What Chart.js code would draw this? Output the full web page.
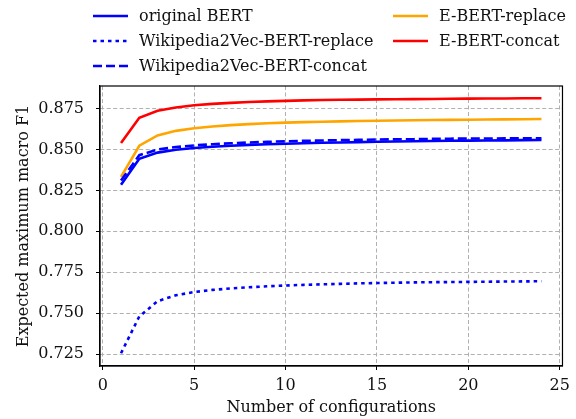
<!DOCTYPE html>
<html>
<head>
<meta charset="utf-8">
<script src="https://cdn.jsdelivr.net/npm/chart.js@4.4.0/dist/chart.umd.min.js"></script>
<style>
  html, body { margin: 0; padding: 0; background: #fff; }
  canvas { display: block; }
</style>
</head>
<body>
<canvas id="myChart" width="576" height="419"></canvas>
<script>
// data
const configs = [1,2,3,4,5,6,7,8,9,10,11,12,13,14,15,16,17,18,19,20,21,22,23,24]
const originalBert = [0.8285,0.8443,0.8481,0.8498,0.8509,0.8517,0.8523,0.8528,0.8532,0.8535,0.8538,0.8541,0.8543,0.8545,0.8547,0.8549,0.8550,0.8552,0.8553,0.8554,0.8555,0.8556,0.8557,0.8558]
const wikiReplace = [0.7255,0.7480,0.7573,0.7609,0.7629,0.7642,0.7651,0.7658,0.7664,0.7669,0.7673,0.7676,0.7679,0.7682,0.7684,0.7686,0.7688,0.7689,0.7690,0.7691,0.7692,0.7693,0.7694,0.7695]
const wikiConcat = [0.8310,0.8465,0.8500,0.8515,0.8525,0.8532,0.8538,0.8543,0.8547,0.8550,0.8553,0.8555,0.8557,0.8559,0.8561,0.8562,0.8563,0.8565,0.8566,0.8567,0.8567,0.8568,0.8569,0.8569]
const ebertReplace = [0.8333,0.8523,0.8586,0.8614,0.8630,0.8641,0.8649,0.8655,0.8660,0.8664,0.8667,0.8670,0.8672,0.8674,0.8676,0.8677,0.8679,0.8680,0.8681,0.8682,0.8683,0.8684,0.8685,0.8686]
const ebertConcat = [0.8540,0.8694,0.8737,0.8757,0.8770,0.8779,0.8785,0.8790,0.8794,0.8797,0.8800,0.8802,0.8804,0.8805,0.8806,0.8807,0.8808,0.8809,0.8810,0.8811,0.8812,0.8812,0.8813,0.8813]

const xTicks = [0, 5, 10, 15, 20, 25]
const yTicks = [0.725, 0.750, 0.775, 0.800, 0.825, 0.850, 0.875]

const FONT = "'DejaVu Serif', serif"
const FSIZE = 16

function pts(ys) {
    return ys.map((y, i) => ({x: configs[i], y: y}))
}

function mkSet(label, ys, color, dash) {
    return {
        label: label,
        data: pts(ys),
        borderColor: color,
        backgroundColor: color,
        borderWidth: 2.6,
        borderDash: dash,
        pointRadius: 0,
        fill: false,
        tension: 0
    }
}

const data = {
    datasets: [
        mkSet('original BERT', originalBert, '#0000ff', []),
        mkSet('Wikipedia2Vec-BERT-replace', wikiReplace, '#0000ff', [3.5, 4]),
        mkSet('Wikipedia2Vec-BERT-concat', wikiConcat, '#0000ff', [9, 4]),
        mkSet('E-BERT-replace', ebertReplace, '#ffa500', []),
        mkSet('E-BERT-concat', ebertConcat, '#ff0000', [])
    ]
}

// matplotlib-like legend in two columns, above the axes
const legendBox = {
    id: 'legendBox',
    afterDraw(chart) {
        const ctx = chart.ctx
        const cols = [{lx: 93, tx: 139}, {lx: 393, tx: 439}]
        const rows = [16, 41, 66]
        ctx.save()
        ctx.font = FSIZE + 'px ' + FONT
        ctx.textBaseline = 'middle'
        chart.data.datasets.forEach((ds, i) => {
            const c = cols[i < 3 ? 0 : 1]
            const y = rows[i < 3 ? i : i - 3]
            ctx.strokeStyle = ds.borderColor
            ctx.lineWidth = 2.6
            ctx.setLineDash(ds.borderDash)
            ctx.beginPath()
            ctx.moveTo(c.lx, y)
            ctx.lineTo(c.lx + 35, y)
            ctx.stroke()
            ctx.setLineDash([])
            ctx.fillStyle = '#111'
            ctx.fillText(ds.label, c.tx, y + 1)
        })
        ctx.restore()
    }
}

// full box around the plot
const frame = {
    id: 'frame',
    afterDatasetsDraw(chart) {
        const a = chart.chartArea
        const ctx = chart.ctx
        ctx.save()
        ctx.strokeStyle = '#000'
        ctx.lineWidth = 1.2
        ctx.strokeRect(a.left, a.top, a.right - a.left, a.bottom - a.top)
        ctx.restore()
    }
}

const gridOpts = {
    color: '#b0b0b0',
    lineWidth: 1,
    tickColor: '#000',
    tickLength: 4,
    tickBorderDash: [],
    tickWidth: 1
}

const config = {
    type: 'line',
    data,
    plugins: [legendBox, frame],
    options: {
        responsive: false,
        animation: false,
        layout: {
            padding: {top: 86, right: 13, left: 0, bottom: 0}
        },
        plugins: {
            legend: {display: false},
            tooltip: {enabled: false}
        },
        scales: {
            x: {
                type: 'linear',
                min: -0.15,
                max: 25.15,
                afterBuildTicks: (axis) => { axis.ticks = xTicks.map(v => ({value: v})) },
                afterFit: (axis) => { axis.height = 53 },
                ticks: {
                    color: '#111',
                    font: {family: FONT, size: FSIZE},
                    padding: 6,
                    maxRotation: 0
                },
                grid: gridOpts,
                border: {color: '#000', width: 1.2, dash: [4, 2.5]},
                title: {
                    display: true,
                    text: 'Number of configurations',
                    color: '#111',
                    font: {family: FONT, size: FSIZE},
                    padding: {top: 0, bottom: 2}
                }
            },
            y: {
                type: 'linear',
                min: 0.7177,
                max: 0.8888,
                afterBuildTicks: (axis) => { axis.ticks = yTicks.map(v => ({value: v})) },
                afterFit: (axis) => { axis.width = 100 },
                ticks: {
                    color: '#111',
                    font: {family: FONT, size: FSIZE},
                    padding: 12,
                    callback: (v) => v.toFixed(3)
                },
                grid: gridOpts,
                border: {color: '#000', width: 1.2, dash: [4, 2.5]},
                title: {
                    display: true,
                    text: 'Expected maximum macro F1',
                    color: '#111',
                    font: {family: FONT, size: FSIZE},
                    padding: {top: 14, bottom: 0}
                }
            }
        }
    }
}

const myChart = new Chart(document.getElementById('myChart'), config)
</script>
</body>
</html>
